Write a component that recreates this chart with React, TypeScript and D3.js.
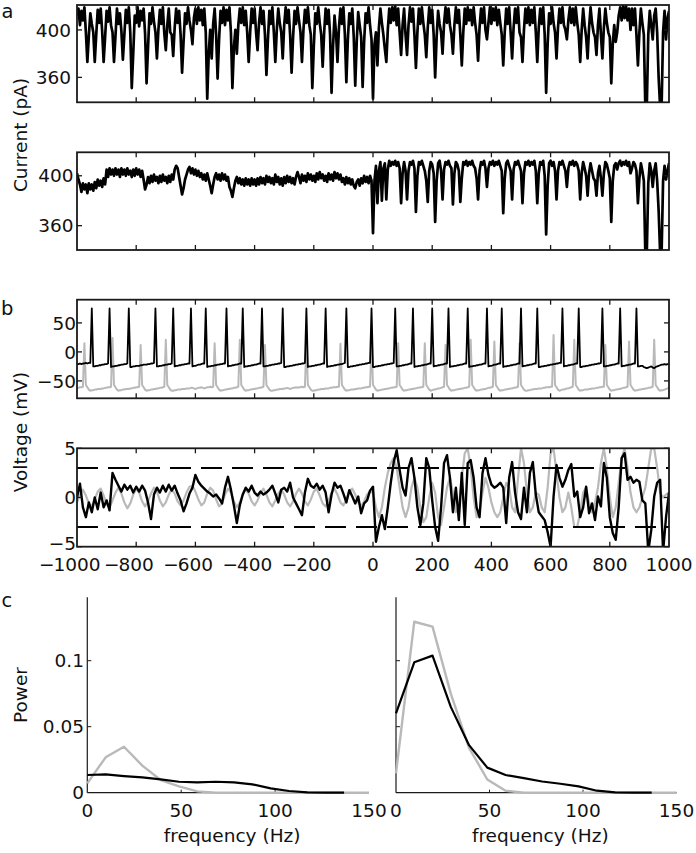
import React from 'react';
import * as d3 from 'd3';

// ---------------- DATA ----------------
const TIME_DOMAIN = [-1000, 1000];
const TIME_TICKS = [-1000, -800, -600, -400, -200, 0, 200, 400, 600, 800, 1000];
const STEP_A = 5; // ms per sample (a, b1)
const STEP_B2 = 10; // ms per sample (b2)

const A1_DOMAIN = [339, 421];
const A2_DOMAIN = [340.5, 418.8];
const A_YTICKS = [360, 400];

const A1_CURRENT = [
  412,418,404,416,408,419,398,373,395,414,405,398,373,396,417,406,418,399,373,394,
  416,407,419,404,398,373,395,418,405,414,399,375,396,417,406,419,398,351,380,412,
  406,419,403,416,408,418,397,355,385,414,405,419,407,398,376,400,417,405,419,397,
  383,404,418,398,396,378,402,418,406,416,396,364,390,414,405,419,408,400,388,410,
  418,405,419,408,417,404,418,398,342,380,400,376,405,418,396,359,392,416,406,419,
  404,417,408,419,398,351,385,400,380,404,418,406,419,404,416,398,373,398,418,406,
  418,398,383,406,419,405,416,396,362,392,416,405,419,398,373,400,418,406,398,376,
  404,419,406,417,396,364,394,416,405,419,408,398,373,400,417,406,419,404,396,351,
  386,414,405,419,406,396,369,398,418,405,417,396,347,386,412,398,373,402,418,405,
  419,396,356,392,414,405,418,394,353,390,415,404,394,352,390,414,406,419,404,392,
  342,388,398,370,402,418,406,396,384,373,400,418,406,419,408,420,404,418,398,379,
  404,418,396,379,404,419,407,418,396,368,398,418,405,419,406,396,377,402,419,406,
  417,396,360,394,416,405,398,380,405,419,406,418,404,396,380,404,419,406,417,396,
  370,398,418,405,419,408,417,404,419,406,396,374,402,418,406,419,400,392,406,419,
  405,418,408,419,404,417,406,396,370,398,418,405,419,398,376,402,418,406,419,398,
  394,373,400,418,406,419,404,417,406,419,398,373,402,418,405,419,396,347,388,414,
  405,419,406,398,376,402,418,406,419,404,400,392,408,419,406,418,404,419,406,396,
  373,400,418,404,394,376,402,419,406,398,394,379,404,418,396,376,402,418,406,398,
  394,355,388,404,390,398,412,419,408,420,410,420,408,418,400,418,404,418,396,370,
  398,418,406,396,335,335,396,416,404,392,412,418,398,360,335,335,398,416,392,410,416
];

const A2_CURRENT = [
  402,397,393,387,394,389,393,386,394,389,393,388,395,390,397,392,396,391,398,393,
  405,399,406,401,405,400,406,401,405,399,406,401,405,400,406,401,404,399,405,400,
  406,401,405,399,404,397,389,393,399,394,400,395,401,396,399,394,400,395,401,396,
  399,394,400,395,401,397,405,408,406,399,392,385,390,397,401,405,407,402,406,401,
  405,400,404,399,402,397,401,396,402,397,392,386,393,399,402,397,401,396,402,397,
  401,396,399,391,388,383,390,396,399,394,398,393,397,392,398,393,397,392,398,393,
  397,392,398,393,399,394,398,393,400,395,399,394,398,393,401,395,399,393,398,392,
  399,394,400,395,399,394,398,393,399,403,399,394,401,396,400,395,402,397,401,396,
  400,395,402,397,403,398,401,396,400,395,402,397,401,396,403,398,402,397,401,395,
  398,393,399,394,398,393,397,392,390,395,397,392,398,394,400,395,399,394,400,396,
  354,396,408,378,404,411,380,406,410,381,405,412,408,411,409,412,408,411,406,378,
  402,411,404,381,404,411,409,412,406,371,400,411,409,412,408,404,396,379,404,411,
  409,402,363,396,410,412,404,381,405,411,409,412,408,406,377,402,411,409,404,379,
  398,411,409,412,408,411,409,412,408,406,398,381,404,411,409,412,406,391,406,411,
  409,412,408,411,409,412,408,404,370,398,410,412,408,404,381,405,411,409,412,408,
  404,378,402,411,409,412,408,411,409,412,404,378,402,411,409,412,400,353,392,410,
  412,408,411,404,381,404,411,409,412,408,404,391,406,411,409,412,408,411,409,404,
  381,402,411,406,400,384,402,410,404,398,396,384,402,408,398,384,402,411,409,404,
  398,363,396,408,410,405,410,412,408,411,409,412,408,411,402,406,411,409,404,378,
  398,410,404,396,338,338,394,410,404,391,404,410,396,372,338,338,396,408,397,404,410
];

const B1_DOMAIN = [-80, 90];
const B1_YTICKS = [-50, 0, 50];

const B1_BLACK = [
  -21,-21,-20,-21,-20,-20,-19,-20,-19,-19,
  75,-25,-25,-24,-24,-23,-23,-22,-22,-21,-21,-20,
  75,-26,-25,-25,-24,-24,-23,-23,-22,-22,-21,-21,-20,
  75,-26,-26,-25,-25,-24,-24,-24,-23,-23,-22,-22,-22,-21,-21,-20,-20,-19,
  75,-25,-25,-24,-24,-23,-23,-22,-22,-21,-21,-20,
  75,-25,-24,-24,-23,-23,-22,-22,-21,-21,-20,-20,
  75,-25,-24,-24,-23,-22,-22,-21,-20,-20,
  75,-26,-25,-25,-24,-24,-23,-23,-22,-22,-21,-21,-20,-20,
  75,-25,-24,-24,-23,-23,-22,-22,-21,-20,-20,
  75,-26,-25,-25,-24,-24,-23,-23,-22,-22,-21,-20,-20,
  75,-25,-25,-24,-24,-23,-23,-22,-22,-21,-21,-20,-20,-19,
  75,-26,-26,-25,-25,-24,-24,-23,-23,-22,-22,-21,-21,-20,-20,-19,
  75,-26,-25,-25,-24,-24,-23,-23,-22,-22,-21,-20,-20,
  75,-26,-25,-25,-24,-24,-23,-23,-22,-22,-21,-21,-20,-19,
  75,-26,-26,-25,-25,-24,-24,-23,-23,-22,-22,-21,-21,-20,-20,-19,-19,
  75,-26,-26,-25,-25,-24,-24,-23,-23,-22,-22,-21,-21,-20,-20,-19,
  75,-25,-25,-24,-24,-23,-23,-22,-22,-21,-20,-20,
  75,-26,-25,-25,-24,-24,-23,-23,-22,-22,-21,-20,-20,
  75,-25,-24,-24,-23,-23,-22,-22,-21,-20,-20,
  75,-26,-25,-25,-24,-24,-23,-23,-22,-22,-21,-20,-20,
  75,-26,-25,-25,-24,-24,-23,-23,-22,-22,-21,-20,-20,
  75,-25,-24,-24,-23,-22,-22,-21,-20,-20,
  75,-26,-25,-25,-24,-24,-23,-23,-22,-22,-21,-20,-20,
  75,-25,-24,-24,-23,-23,-22,-22,-21,-20,-20,
  75,-26,-26,-25,-25,-24,-24,-23,-23,-22,-22,-21,-21,-20,-20,-19,-19,
  75,-25,-24,-24,-23,-23,-22,-22,-21,-20,-20,
  75,-26,-26,-25,-25,-24,-24,-23,-23,-22,-22,-21,-21,-20,-20,-19,
  75,-25,-25,-24,-24,-23,-23,-22,-22,-21,-20,-20,
  75,-25,-24,-24,-23,-23,-22,-22,-21,-20,-20,
  75,-25,-25,-24,-24,-26,-27,-28,-27,-26,-25,-27,-28,-26,-25,-24,-23,-22,-22,-21,-22,-21,-21
];

const B1_GREY = [
  -62,-62,-61,-61,-60,
  15,-57,-61,-65,-67,-66,-66,-65,-65,-64,-64,-64,-63,-63,-62,-62,-61,-61,-60,
  24,-57,-61,-65,-67,-66,-66,-65,-65,-64,-64,-64,-63,-63,-62,-62,-61,-61,-60,
  12,-57,-61,-65,-67,-66,-66,-65,-65,-64,-64,-63,-63,-62,-62,-61,-60,
  21,-57,-61,-65,-67,-67,-66,-66,-65,-65,-65,-64,-64,-64,-63,-63,-63,-62,-62,-63,-64,-63,-62,-62,-61,-62,-63,-62,-61,-61,-60,-61,-60,
  15,-57,-61,-65,-67,-66,-66,-65,-65,-64,-64,-63,-63,-62,-62,-61,-60,
  21,-57,-61,-65,-67,-66,-66,-65,-65,-64,-64,-63,-63,-62,-62,-61,-60,
  12,-57,-61,-65,-67,-67,-66,-66,-65,-65,-64,-64,-64,-63,-63,-62,-63,-64,-63,-62,-62,-61,-62,-61,-61,-60,-61,-60,
  18,-57,-61,-65,-67,-67,-66,-66,-65,-65,-64,-64,-64,-63,-63,-63,-62,-62,-61,-61,-61,-60,-60,
  14,-57,-61,-65,-67,-66,-66,-65,-65,-65,-64,-64,-63,-63,-63,-62,-62,-61,-61,-60,-60,
  15,-57,-61,-65,-67,-66,-66,-65,-65,-64,-64,-63,-63,-62,-62,-61,-61,-60,
  15,-57,-61,-65,-67,-66,-66,-65,-65,-64,-64,-63,-63,-62,-62,-61,-61,-60,
  15,-57,-61,-65,-67,-66,-65,-65,-64,-63,-63,-62,-61,-60,
  12,-57,-61,-65,-67,-66,-66,-65,-65,-64,-64,-63,-63,-62,-62,-61,-60,
  21,-57,-61,-65,-67,-66,-66,-65,-65,-64,-64,-63,-62,-62,-61,-60,
  18,-57,-61,-65,-67,-66,-66,-65,-65,-64,-64,-63,-63,-62,-62,-61,-60,
  15,-57,-61,-65,-67,-67,-66,-66,-65,-65,-64,-64,-64,-63,-63,-63,-62,-62,-61,-61,-61,-60,-60,
  29,-57,-61,-65,-67,-66,-65,-65,-64,-63,-63,-62,-61,-60,
  21,-57,-61,-65,-67,-66,-66,-65,-65,-65,-64,-64,-63,-63,-63,-62,-62,-61,-61,-60,-60,
  12,-57,-61,-65,-67,-66,-66,-65,-65,-64,-64,-63,-62,-62,-61,-60,
  18,-57,-61,-65,-67,-66,-66,-65,-65,-64,-64,-63,-63,-62,-62,-61,-60,
  21,-57,-61,-65,-67,-66,-66,-65,-64,-63,-62
];

const B2_DOMAIN = [-5, 5];
const B2_YTICKS = [-5, 0, 5];
const B2_THRESHOLDS = [-3, 3];

const B2_BLACK = [
  0,1.4,-1,-2,-0.5,-1.5,0,-1.2,0.5,-1,
  -0.3,-1.3,2.5,1.8,1.2,0.6,1.3,0.8,1.2,0.5,
  1.1,0.6,1.2,0.7,-0.5,-2.2,0.3,1.0,0.5,1.2,
  0.6,1.3,0.7,1.2,0.4,-0.3,-1.4,-0.6,0.4,1.0,
  2.3,1.6,1.2,0.9,0.6,0.4,0.1,0.3,-0.1,-0.6,
  1.0,2.1,0.8,-0.8,-2.6,-0.8,0.3,1.0,0.6,1.2,
  0.5,0.2,0.6,0.3,0.5,0.8,1.2,0.4,-0.5,0.8,
  1.0,0.6,1.5,0.0,-0.6,-1.2,-1.8,0.5,1.9,1.2,
  1.0,1.4,0.8,1.2,0.5,-1.5,0.3,1.5,1.0,1.2,
  0.4,-0.5,0.75,0.1,-0.6,0.1,-1.6,-0.6,-0.3,0.7,
  1.1,-4.5,-3,-1.8,-3.2,-1,1.5,3.6,4.8,2.8,
  1.0,0.2,3.0,4.0,2.0,-1.0,-2.8,-0.6,4.0,3.0,
  -0.3,-3.0,-4.4,-1.0,3.5,4.3,2.0,-1.5,1.0,-2.3,
  2.5,-2.8,3.5,3.8,2.0,-1.0,-2.0,2.5,4.0,2.3,
  1.3,1.0,1.2,1.5,1.0,-2.6,2.0,3.6,0.5,-1.5,
  -2.2,1.0,-1.5,2.5,3.6,0.3,-1.5,-1.9,-2.3,-3.5,
  -5,0.1,3.3,2.0,1.1,1.8,2.8,3.4,0.1,0.6,
  -2.0,-1.0,1.1,-1.6,-0.6,-2.3,0.1,-0.9,3.5,2.0,
  -2.0,-3.6,-4.3,-1.0,4.0,4.5,1.8,2.1,1.5,1.8,
  1.6,-0.3,-0.6,-5.5,-3.3,0.1,1.5,1.8,-5.5,-2.0,
  0.5
];

const B2_GREY = [
  -0.5,0.3,0.8,0.2,-0.6,-0.9,-0.2,0.6,0.9,0.2,
  -0.7,-1.0,-0.3,0.5,1.0,0.4,-0.5,-1.1,-0.6,0.3,
  0.9,0.5,-0.4,-0.9,-0.4,0.4,1.0,0.6,-0.3,-0.9,
  -0.5,0.3,0.8,0.4,-0.4,-0.8,-0.3,0.5,1.1,1.2,
  0.6,-0.2,-0.8,-0.5,0.4,1.0,0.7,-0.2,-0.9,-0.6,
  0.3,0.9,0.5,-0.4,-1.0,-0.5,0.3,0.8,0.4,-0.4,
  -0.8,-0.3,0.5,0.9,0.3,-0.5,-0.9,-0.3,0.4,0.8,
  0.3,-0.5,-0.9,-0.4,0.4,0.9,0.4,-0.4,-0.8,-0.2,
  0.6,0.9,0.2,-0.6,-0.9,-0.3,0.5,0.9,0.3,-0.5,
  -0.8,-0.2,0.6,0.9,0.3,-0.5,-0.9,-0.4,0.3,0.6,
  0.5,-1,-2,-1,1,2.5,3.5,4,3,1,
  -1,-2,-1,1,2,1,-1,-2.5,-2,0,
  1.5,0.5,-2,-2.8,-1,1,2,0.5,-1.5,-1,
  2,4.5,5,3,0,-2,-1.5,0.5,2,1,
  -0.5,-1.5,-2,-1.5,0,1.5,1,-1,-1.5,2,
  5,3.5,0.5,-1.5,-1,0.5,0.3,-1,-1.5,1,
  4.5,5,2.5,0,-1.5,-1,0.5,-1,-3,-3,
  -1.5,0.5,1,-0.5,-1.5,-0.5,1,3.5,5,3,
  0,-2,-1,1.5,4,5,3,0.5,-1,-1.5,
  -1,0,1,3,5,5,3,0.5,0,0.3,
  0.5
];

const C_XDOMAIN = [0, 150];
const C_YDOMAIN = [0, 0.148];
const C_XTICKS = [0, 50, 100, 150];
const C_YTICKS = [0, 0.05, 0.1];
const C_YTICK_LABELS = ['0', '0.05', '0.1'];
const C_FREQ_BLACK = [0, 9.77, 19.53, 29.3, 39.06, 48.83, 58.59, 68.36, 78.13, 87.89, 97.66, 107.42, 117.19, 126.95, 136.72];
const C_FREQ_GREY = [0, 9.77, 19.53, 29.3, 39.06, 48.83, 58.59, 68.36, 78.13, 87.89, 97.66, 107.42, 117.19, 126.95, 136.72, 146.48, 150];
const C1_BLACK = [0.0134, 0.0139, 0.0126, 0.0116, 0.0101, 0.0083, 0.0078, 0.0083, 0.0078, 0.0063, 0.0033, 0.0013, 0.0003, 0.0001, 0];
const C1_GREY = [0.0071, 0.0268, 0.0348, 0.0205, 0.0096, 0.0048, 0.001, 0, 0, 0, 0, 0, 0, 0, 0, 0, 0];
const C2_BLACK = [0.060, 0.0988, 0.1038, 0.065, 0.036, 0.019, 0.0134, 0.011, 0.0085, 0.0068, 0.0048, 0.0015, 0.0003, 0, 0];
const C2_GREY = [0.0147, 0.1295, 0.1258, 0.075, 0.034, 0.010, 0.0015, 0, 0, 0, 0, 0, 0, 0, 0, 0, 0];

// ---------------- STYLE / LAYOUT ----------------
const FONT = "'DejaVu Sans', 'Liberation Sans', sans-serif";
const FS = 18.5;
const BLACK = '#000';
const GREY = '#b9b9b9';
const FRAME = '#1a1a1a';
const TICK = 5;
const X_LEFT = 77;
const X_RIGHT = 669;

function fmtMinus(v: number) {
  return v < 0 ? '\u2212' + Math.abs(v) : String(v);
}

type BoxProps = {
  id: string;
  top: number;
  bottom: number;
  domain: number[];
  yTicks: number[];
  labelX: number;
  labelDy?: number[];
  xScale: d3.ScaleLinear<number, number>;
  children: (y: d3.ScaleLinear<number, number>) => React.ReactNode;
};

function BoxPanel({ id, top, bottom, domain, yTicks, labelX, labelDy, xScale, children }: BoxProps) {
  const y = d3.scaleLinear().domain(domain).range([bottom, top]);
  const [L, R] = xScale.range();
  const inner = TIME_TICKS.filter((t) => t > TIME_DOMAIN[0] && t < TIME_DOMAIN[1]);
  return (
    <g>
      <defs>
        <clipPath id={id}>
          <rect x={L} y={top} width={R - L} height={bottom - top} />
        </clipPath>
      </defs>
      <g clipPath={`url(#${id})`}>{children(y)}</g>
      <rect x={L} y={top} width={R - L} height={bottom - top} fill="none" stroke={FRAME} strokeWidth={1.8} />
      {inner.map((t) => (
        <g key={t}>
          <line x1={xScale(t)} x2={xScale(t)} y1={bottom} y2={bottom - TICK} stroke={FRAME} strokeWidth={1.3} />
          <line x1={xScale(t)} x2={xScale(t)} y1={top} y2={top + TICK} stroke={FRAME} strokeWidth={1.3} />
        </g>
      ))}
      {yTicks.map((v, i) => (
        <g key={v}>
          <line x1={L} x2={L + TICK} y1={y(v)} y2={y(v)} stroke={FRAME} strokeWidth={1.3} />
          <line x1={R} x2={R - TICK} y1={y(v)} y2={y(v)} stroke={FRAME} strokeWidth={1.3} />
          <text x={labelX} y={y(v) + (labelDy ? labelDy[i] : 0)} dy="0.36em" textAnchor="end" fontSize={FS} fill="#111">
            {fmtMinus(v)}
          </text>
        </g>
      ))}
    </g>
  );
}

export default function App() {
  const xT = d3.scaleLinear().domain(TIME_DOMAIN).range([X_LEFT, X_RIGHT]);

  const traceA = (arr: number[], step: number, y: d3.ScaleLinear<number, number>) =>
    d3.line<number>()
      .x((_, i) => xT(TIME_DOMAIN[0] + i * step))
      .y((v) => y(v))(arr) as string;

  const cY = d3.scaleLinear().domain(C_YDOMAIN).range([792.7, 597.3]);
  const c1X = d3.scaleLinear().domain(C_XDOMAIN).range([87.3, 369]);
  const c2X = d3.scaleLinear().domain(C_XDOMAIN).range([396, 676.5]);

  const specLine = (xs: number[], ys: number[], x: d3.ScaleLinear<number, number>) =>
    d3.line<number>()
      .x((_, i) => x(xs[i]))
      .y((v) => cY(v))(ys) as string;

  const digitW = 0.636 * FS;

  const cPanel = (x: d3.ScaleLinear<number, number>, black: number[], grey: number[], showYLabels: boolean, key: string) => {
    const [L, R] = x.range();
    return (
      <g key={key}>
        <line x1={L} x2={L} y1={cY(0)} y2={cY.range()[1]} stroke={FRAME} strokeWidth={1.2} />
        <line x1={L} x2={R} y1={cY(0)} y2={cY(0)} stroke={FRAME} strokeWidth={1.2} />
        {C_XTICKS.filter((f) => f > 0 && f < 150).map((f) => (
          <line key={f} x1={x(f)} x2={x(f)} y1={cY(0)} y2={cY(0) - 3} stroke={FRAME} strokeWidth={1} />
        ))}
        {C_YTICKS.filter((v) => v > 0).map((v) => (
          <line key={v} x1={L} x2={L + 4} y1={cY(v)} y2={cY(v)} stroke={FRAME} strokeWidth={1} />
        ))}
        <path d={specLine(C_FREQ_GREY, grey, x)} fill="none" stroke={GREY} strokeWidth={2.4} strokeLinejoin="round" />
        <path d={specLine(C_FREQ_BLACK, black, x)} fill="none" stroke={BLACK} strokeWidth={2.2} strokeLinejoin="round" />
        {C_XTICKS.map((f) => (
          <text key={f} x={x(f)} y={817} textAnchor="middle" fontSize={FS} fill="#111">
            {f}
          </text>
        ))}
        {showYLabels &&
          C_YTICKS.map((v, i) => (
            <text key={v} x={84} y={cY(v)} dy="0.36em" textAnchor="end" fontSize={FS} fill="#111">
              {C_YTICK_LABELS[i]}
            </text>
          ))}
        <text x={(L + R) / 2 + 4} y={842} textAnchor="middle" fontSize={FS} fill="#111">
          frequency (Hz)
        </text>
      </g>
    );
  };

  return (
    <svg
      width={696}
      height={853}
      style={{ position: 'absolute', left: 0, top: 0, background: '#fff' }}
      fontFamily={FONT}
    >
      <rect x={0} y={0} width={696} height={853} fill="#fff" />

      {/* panel letters */}
      <text x={1.5} y={18} fontSize={FS + 1} fill="#111">a</text>
      <text x={1} y={315} fontSize={FS + 1} fill="#111">b</text>
      <text x={1.5} y={607} fontSize={FS + 1} fill="#111">c</text>

      {/* axis titles */}
      <text transform="translate(27,135) rotate(-90)" textAnchor="middle" fontSize={FS} fill="#111">
        Current (pA)
      </text>
      <text transform="translate(27,432) rotate(-90)" textAnchor="middle" fontSize={FS} fill="#111">
        Voltage (mV)
      </text>
      <text transform="translate(27,695) rotate(-90)" textAnchor="middle" fontSize={FS} fill="#111">
        Power
      </text>

      {/* a1 */}
      <BoxPanel id="clipA1" top={5} bottom={102.3} domain={A1_DOMAIN} yTicks={A_YTICKS} labelX={71} xScale={xT}>
        {(y) => (
          <path d={traceA(A1_CURRENT, STEP_A, y)} fill="none" stroke={BLACK} strokeWidth={2.7} strokeLinejoin="round" />
        )}
      </BoxPanel>

      {/* a2 */}
      <BoxPanel id="clipA2" top={152.3} bottom={250} domain={A2_DOMAIN} yTicks={A_YTICKS} labelX={73.5} xScale={xT}>
        {(y) => (
          <path d={traceA(A2_CURRENT, STEP_A, y)} fill="none" stroke={BLACK} strokeWidth={2.7} strokeLinejoin="round" />
        )}
      </BoxPanel>

      {/* b1 */}
      <BoxPanel id="clipB1" top={299.7} bottom={398.3} domain={B1_DOMAIN} yTicks={B1_YTICKS} labelX={76} xScale={xT}>
        {(y) => (
          <g>
            <path d={traceA(B1_GREY, STEP_A, y)} fill="none" stroke={GREY} strokeWidth={2} strokeLinejoin="round" />
            <path d={traceA(B1_BLACK, STEP_A, y)} fill="none" stroke={BLACK} strokeWidth={1.8} strokeLinejoin="round" />
          </g>
        )}
      </BoxPanel>

      {/* b2 */}
      <BoxPanel id="clipB2" top={448.3} bottom={546.7} domain={B2_DOMAIN} yTicks={B2_YTICKS} labelX={76} labelDy={[-3, 0, 0]} xScale={xT}>
        {(y) => (
          <g>
            <path d={traceA(B2_GREY, STEP_B2, y)} fill="none" stroke={GREY} strokeWidth={2.2} strokeLinejoin="round" />
            {B2_THRESHOLDS.map((th) => (
              <line key={th} x1={X_LEFT} x2={X_RIGHT} y1={y(th)} y2={y(th)} stroke={BLACK} strokeWidth={2} strokeDasharray="21 10" />
            ))}
            <path d={traceA(B2_BLACK, STEP_B2, y)} fill="none" stroke={BLACK} strokeWidth={2.4} strokeLinejoin="round" />
          </g>
        )}
      </BoxPanel>

      {/* b2 x labels: digits centred on tick, minus hanging to the left */}
      {TIME_TICKS.map((t) => {
        const digits = String(Math.abs(t));
        const cx = xT(t);
        return (
          <g key={t}>
            <text x={cx} y={571} textAnchor="middle" fontSize={FS} fill="#111">
              {digits}
            </text>
            {t < 0 && (
              <text x={cx - (digits.length * digitW) / 2 + 1} y={571} textAnchor="end" fontSize={FS} fill="#111">
                {'\u2212'}
              </text>
            )}
          </g>
        );
      })}

      {/* c panels */}
      {cPanel(c1X, C1_BLACK, C1_GREY, true, 'c1')}
      {cPanel(c2X, C2_BLACK, C2_GREY, false, 'c2')}
    </svg>
  );
}
